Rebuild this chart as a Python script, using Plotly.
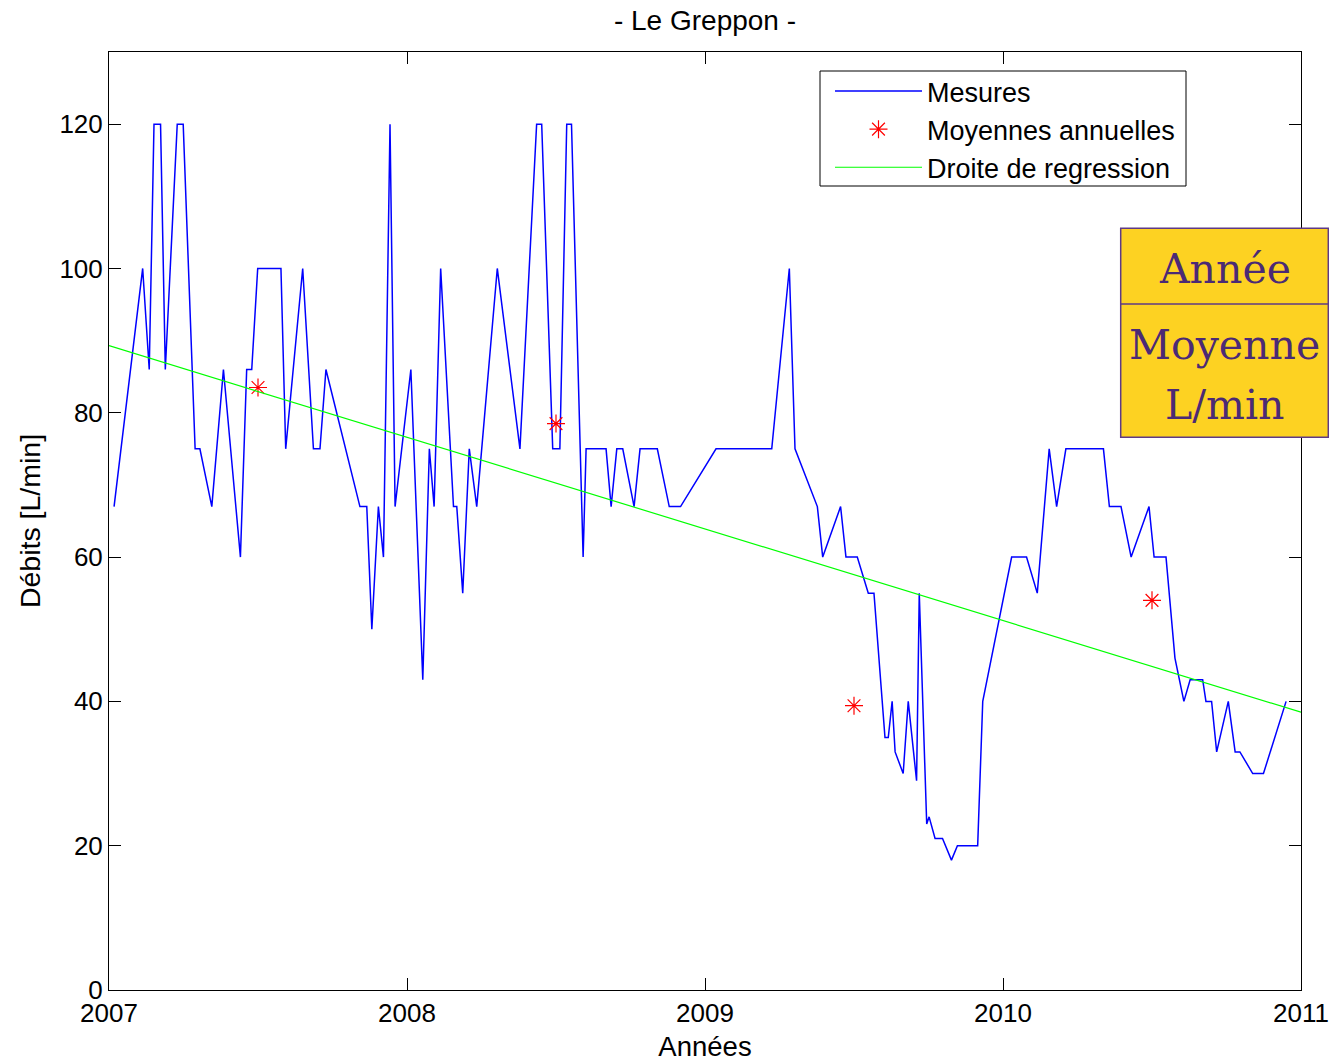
import plotly.graph_objects as go

# --- data ---
mes_x = [2007.017, 2007.113, 2007.135, 2007.151, 2007.173, 2007.189, 2007.229, 2007.249,
         2007.289, 2007.305, 2007.345, 2007.384, 2007.441, 2007.462, 2007.479, 2007.499,
         2007.577, 2007.593, 2007.650, 2007.686, 2007.708, 2007.728, 2007.842, 2007.865,
         2007.882, 2007.904, 2007.921, 2007.943, 2007.960, 2008.013, 2008.053, 2008.075,
         2008.091, 2008.113, 2008.156, 2008.167, 2008.187, 2008.209, 2008.234, 2008.303,
         2008.379, 2008.435, 2008.452, 2008.489, 2008.513, 2008.536, 2008.552, 2008.591,
         2008.601, 2008.668, 2008.685, 2008.704, 2008.724, 2008.762, 2008.782, 2008.840,
         2008.880, 2008.918, 2009.037, 2009.224, 2009.283, 2009.302, 2009.377, 2009.395,
         2009.455, 2009.473, 2009.511, 2009.548, 2009.567, 2009.604, 2009.615, 2009.628,
         2009.638, 2009.665, 2009.682, 2009.710, 2009.719, 2009.744, 2009.752, 2009.772,
         2009.797, 2009.827, 2009.847, 2009.915, 2009.932, 2010.029, 2010.079, 2010.115,
         2010.155, 2010.180, 2010.211, 2010.337, 2010.357, 2010.396, 2010.430, 2010.490,
         2010.507, 2010.547, 2010.577, 2010.607, 2010.628, 2010.670, 2010.681, 2010.700,
         2010.717, 2010.756, 2010.779, 2010.795, 2010.838, 2010.874, 2010.950]
mes_y = [67, 100, 86, 120, 120, 86, 120, 120,
         75, 75, 67, 86, 60, 86, 86, 100,
         100, 75, 100, 75, 75, 86, 67, 67,
         50, 67, 60, 120, 67, 86, 43, 75,
         67, 100, 67, 67, 55, 75, 67, 100,
         75, 120, 120, 75, 75, 120, 120, 60,
         75, 75, 67, 75, 75, 67, 75, 75,
         67, 67, 75, 75, 100, 75, 67, 60,
         67, 60, 60, 55, 55, 35, 35, 40,
         33, 30, 40, 29, 55, 23, 24, 21,
         21, 18, 20, 20, 40, 60, 60, 55,
         75, 67, 75, 75, 67, 67, 60, 67,
         60, 60, 46, 40, 43, 43, 40, 40,
         33, 40, 33, 33, 30, 30, 40]

moy_x = [2007.5, 2008.5, 2009.5, 2010.5]
moy_y = [83.5, 78.5, 39.4, 54.0]

reg_x = [2007.0, 2011.0]
reg_y = [89.3, 38.5]

x_ticks = [2007, 2008, 2009, 2010, 2011]
y_ticks = [0, 20, 40, 60, 80, 100, 120]

FONT = "Liberation Sans"
FS = 26
W, H = 1329, 1062
ML, MR, MT, MB = 109, 28, 52, 72
PW, PH = W - ML - MR, H - MT - MB


def px(xp):
    return (xp - ML) / PW


def py(yp):
    return (H - MB - yp) / PH


fig = go.Figure()
fig.add_trace(go.Scatter(x=mes_x, y=mes_y, mode="lines", name="Mesures",
                         line=dict(color="#0000FF", width=1.5)))
fig.add_trace(go.Scatter(x=moy_x, y=moy_y, mode="markers", name="Moyennes annuelles",
                         marker=dict(symbol="asterisk-open", size=15, color="#FF0000",
                                     line=dict(color="#FF0000", width=1.2))))
fig.add_trace(go.Scatter(x=reg_x, y=reg_y, mode="lines", name="Droite de regression",
                         line=dict(color="#00FF00", width=1.2)))

axis_common = dict(showline=True, linecolor="black", linewidth=1, mirror="allticks",
                   ticks="inside", ticklen=12, tickcolor="black", tickwidth=1,
                   showgrid=False, zeroline=False, automargin=False,
                   tickfont=dict(family=FONT, size=FS, color="black"))

fig.update_xaxes(range=[2007, 2011], tickvals=x_ticks, ticktext=[str(v) for v in x_ticks],
                 title=dict(text="Années", font=dict(family=FONT, size=27.5, color="black"),
                            standoff=10),
                 **axis_common)
fig.update_yaxes(range=[0, 130], tickvals=y_ticks,
                 title=dict(text="Débits [L/min]", font=dict(family=FONT, size=28.5, color="black"),
                            standoff=10),
                 **axis_common)

# Legend frame (drawn as a shape so it matches the reference box)
fig.add_shape(type="rect", xref="paper", yref="paper",
              x0=px(820), x1=px(1186), y0=py(186), y1=py(71),
              fillcolor="white", line=dict(color="black", width=1), layer="above")

# Orange label box
x0, x1 = px(1120.7), px(1328.3)
y0, y1, ym = py(437.3), py(228.3), py(304)
fig.add_shape(type="rect", xref="paper", yref="paper", x0=x0, x1=x1, y0=y0, y1=y1,
              fillcolor="#FDD222", line=dict(color="#5E3A86", width=1.5), layer="above")
fig.add_shape(type="line", xref="paper", yref="paper", x0=x0, x1=x1, y0=ym, y1=ym,
              line=dict(color="#5E3A86", width=1.5), layer="above")
box_font = dict(family="DejaVu Serif", size=41, color="#4B2A75")
xc = (x0 + x1) / 2
for txt, yc in [("Année", py(268.5)), ("Moyenne", py(345)), ("L/min", py(405))]:
    fig.add_annotation(text=txt, xref="paper", yref="paper", x=xc, y=yc,
                       xanchor="center", yanchor="middle", showarrow=False, font=box_font)

fig.update_layout(
    width=W, height=H,
    margin=dict(l=ML, r=MR, t=MT, b=MB, autoexpand=False),
    paper_bgcolor="white", plot_bgcolor="white",
    title=dict(text="- Le Greppon -", x=0.5, xref="paper", y=(H - 20) / H,
               yref="container", xanchor="center", yanchor="middle",
               font=dict(family=FONT, size=28, color="black")),
    legend=dict(x=px(830), y=py(67), xanchor="left", yanchor="top",
                bgcolor="rgba(0,0,0,0)", borderwidth=0,
                font=dict(family=FONT, size=27, color="black"),
                itemwidth=87, tracegroupgap=0),
    font=dict(family=FONT, size=FS, color="black"),
)

fig.write_html("out.html")
